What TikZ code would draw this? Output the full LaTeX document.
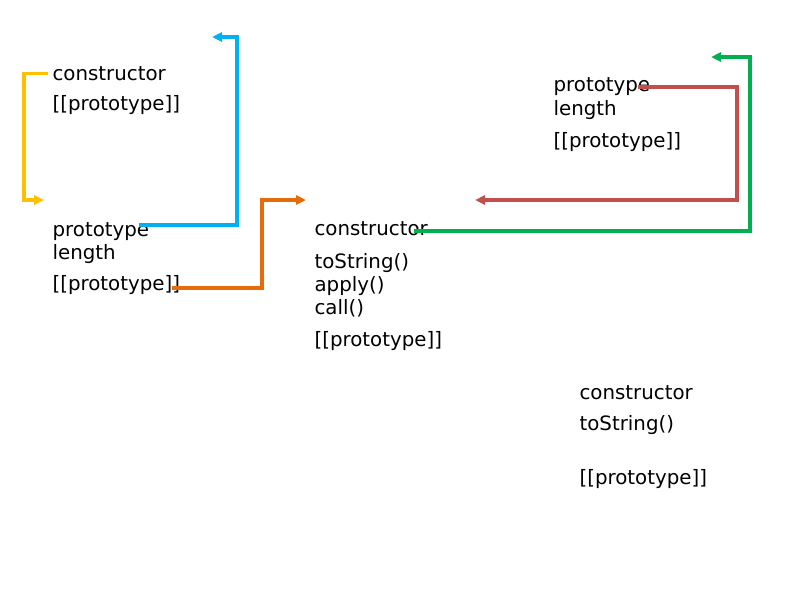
\documentclass[tikz,border=0pt]{standalone}
\usepackage{fontspec}
\setmainfont{DejaVu Sans}
\usetikzlibrary{arrows.meta}

\begin{document}
\begin{tikzpicture}[x=1pt,y=-1pt,line width=3.2pt,
	member/.style={anchor=base west,inner sep=0pt,font=\fontsize{19.8}{23}\selectfont},
	link/.style={-{Triangle[length=10pt,width=9pt]},line join=miter}]

% ---------- Colours ----------
\definecolor{linkyellow}{RGB}{255,192,0}
\definecolor{linkblue}{RGB}{0,176,240}
\definecolor{linkorange}{RGB}{228,108,10}
\definecolor{linkred}{RGB}{192,80,77}
\definecolor{linkgreen}{RGB}{0,176,80}

% ---------- Parameters of the drawing ----------
\def\YellowX{25}   % x of the vertical yellow line
\def\BlueX{237}    % x of the vertical blue line
\def\OrangeX{262}  % x of the vertical orange line
\def\RedX{737}     % x of the vertical red line
\def\GreenX{750}   % x of the vertical green line

% (0,0) coordinate = upper left corner, y grows downwards
\useasboundingbox (0,0) rectangle (800,600);

% ---------- Object top left ----------
\node[member] (aCtor)  at (51,80)  {constructor};
\node[member] (aProto) at (51,110) {[[prototype]]};

% ---------- Object middle left ----------
\node[member] (bProto)  at (51,236) {prototype};
\node[member] (bLength) at (51,259) {length};
\node[member] (bLink)   at (51,290) {[[prototype]]};

% ---------- Object in the middle ----------
\node[member] (cCtor)   at (313,235) {constructor};
\node[member] (cString) at (313,268) {toString()};
\node[member] (cApply)  at (313,291) {apply()};
\node[member] (cCall)   at (313,314) {call()};
\node[member] (cLink)   at (313,346) {[[prototype]]};

% ---------- Object top right ----------
\node[member] (dProto)  at (552,91)  {prototype};
\node[member] (dLength) at (552,115) {length};
\node[member] (dLink)   at (552,147) {[[prototype]]};

% ---------- Object bottom right ----------
\node[member] (eCtor)   at (578,399) {constructor};
\node[member] (eString) at (578,430) {toString()};
\node[member] (eLink)   at (578,484) {[[prototype]]};

% ---------- Free ends of the connectors ----------
\coordinate (yellowTip) at (44,200);
\coordinate (blueTip)   at (212,37);
\coordinate (orangeTip) at (306,200);
\coordinate (redTip)    at (475,200);
\coordinate (greenTip)  at (711,57);

% ---------- Connectors ----------
\draw[link,linkyellow] ([xshift=-3pt]aCtor.west) -- ++(-\YellowX+1,0) |- (yellowTip);
\draw[link,linkblue]   ([xshift=-12pt,yshift=11pt]bProto.base east) -- (\BlueX,225) |- (blueTip);
\draw[link,linkorange] ([xshift=-10pt,yshift=2pt]bLink.base east) -- (\OrangeX,288) |- (orangeTip);
\draw[link,linkred]    ([xshift=-14pt,yshift=4pt]dProto.base east) -- (\RedX,87) |- (redTip);
\draw[link,linkgreen]  ([xshift=-15pt,yshift=4pt]cCtor.base east) -- (\GreenX,231) |- (greenTip);

\end{tikzpicture}
\end{document}
